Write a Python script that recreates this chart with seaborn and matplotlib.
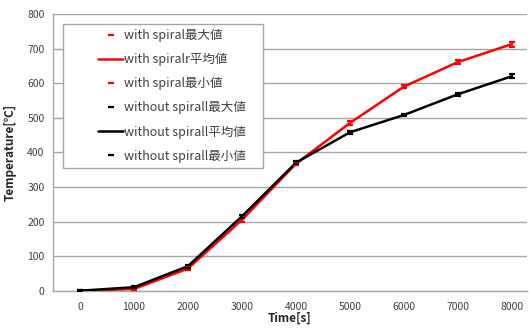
import matplotlib
matplotlib.use("Agg")
import matplotlib.pyplot as plt
import numpy as np
import seaborn as sns
from matplotlib.patches import Rectangle

sns.set_style("white")
plt.rcParams["font.family"] = ["Noto Sans CJK JP", "DejaVu Sans"]

time = [0, 1000, 2000, 3000, 4000, 5000, 6000, 7000, 8000]

with_mean = [0, 5, 64, 205, 367, 485, 590, 661, 713]
with_max = [2, 8, 68, 210, 372, 490, 596, 667, 720]
with_min = [-2, 2, 60, 200, 362, 480, 585, 655, 706]

without_mean = [0, 10, 71, 215, 370, 458, 508, 568, 620]
without_max = [2, 13, 75, 220, 374, 462, 512, 572, 626]
without_min = [-2, 7, 67, 210, 366, 454, 504, 564, 614]

labels = ["with spiral最大値", "with spiralr平均値", "with spiral最小値",
          "without spirall最大値", "without spirall平均値", "without spirall最小値"]

fig = plt.figure(figsize=(5.29, 3.29), dpi=100)
ax = fig.add_axes([53 / 529, 38.3 / 329, 474 / 529, 276.7 / 329])

handles = []
for mean, hi, lo, col, lab in [
    (with_mean, with_max, with_min, "#ff0000", labels[0:3]),
    (without_mean, without_max, without_min, "#000000", labels[3:6]),
]:
    ax.vlines(time, lo, hi, color=col, lw=1.2, zorder=3)
    h_max, = ax.plot(time, hi, ls="none", marker="_", ms=5, mew=1.6, color=col, label=lab[0], zorder=4)
    sns.lineplot(x=time, y=mean, color=col, lw=1.8, ax=ax, label=lab[1], zorder=3)
    h_mean = ax.get_lines()[-1]
    h_min, = ax.plot(time, lo, ls="none", marker="_", ms=5, mew=1.6, color=col, label=lab[2], zorder=4)
    handles += [h_max, h_mean, h_min]

ax.set_xlim(-500, 8280)
ax.set_ylim(0, 800)
ax.set_xticks(time)
ax.set_yticks(np.arange(0, 801, 100))
ax.yaxis.grid(True, color="#a6a6a6", lw=1)
ax.xaxis.grid(False)
for s in ["top", "right"]:
    ax.spines[s].set_visible(False)
for s in ["left", "bottom"]:
    ax.spines[s].set_color("#a6a6a6")
    ax.spines[s].set_linewidth(1)
ax.tick_params(axis="y", length=3, color="#a6a6a6", labelsize=7.5, labelcolor="#404040", pad=3)
ax.tick_params(axis="x", length=0, labelsize=7.5, labelcolor="#404040", pad=8)
ax.set_xlabel("Time[s]", fontsize=8.5, fontweight="bold", labelpad=0)
ax.set_ylabel("Temperature[℃]", fontsize=8.5, fontweight="bold", labelpad=8)

# legend box drawn separately (Excel-style wide frame)
ax.add_patch(Rectangle((63 / 529, 1 - 168 / 329), 200 / 529, 144 / 329,
                       transform=fig.transFigure, facecolor="white",
                       edgecolor="#a6a6a6", lw=1, zorder=5, clip_on=False))
leg = ax.legend(handles, labels, loc="upper left", bbox_to_anchor=(92 / 529, 1 - 23 / 329),
                bbox_transform=fig.transFigure, frameon=False, fontsize=9,
                handlelength=2.0, handletextpad=0.1, labelspacing=0.88, borderpad=0,
                labelcolor="#404040")
leg.set_zorder(10)

fig.savefig("out.png", dpi=100)
